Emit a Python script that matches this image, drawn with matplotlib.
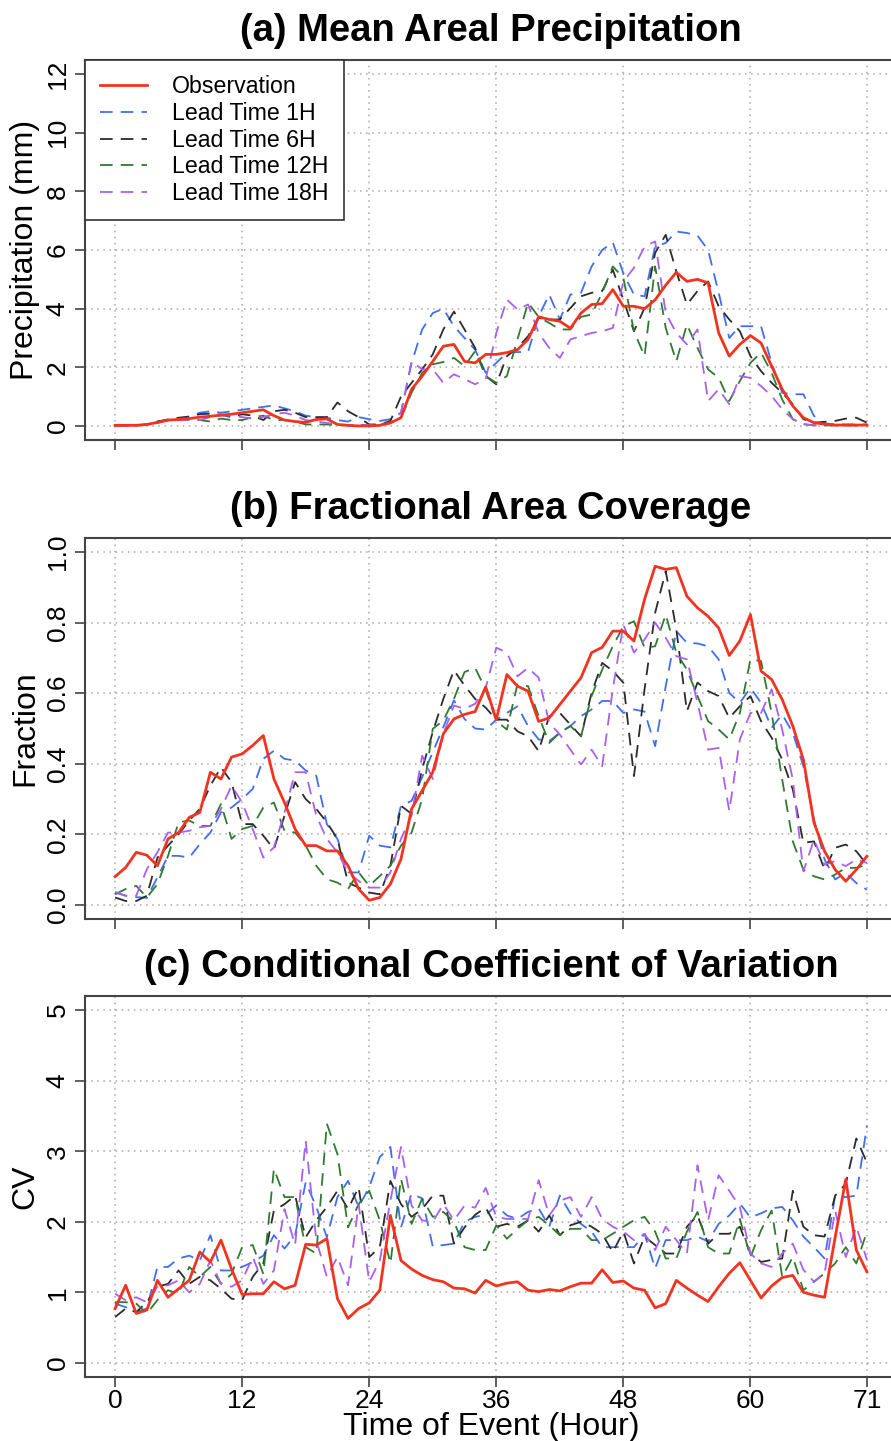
import matplotlib
matplotlib.use("Agg")
import matplotlib.pyplot as plt
import numpy as np

hours = np.arange(72)

# (a) mean areal precipitation (mm)
map_obs = [0.02, 0.02, 0.02, 0.05, 0.12, 0.20, 0.22, 0.25, 0.30, 0.33, 0.37, 0.40,
           0.45, 0.50, 0.55, 0.35, 0.20, 0.15, 0.12, 0.22, 0.24, 0.05, 0.02, 0.0,
           0.0, 0.02, 0.10, 0.28, 1.25, 1.70, 2.20, 2.72, 2.78, 2.20, 2.15, 2.44,
           2.44, 2.50, 2.60, 2.95, 3.72, 3.63, 3.57, 3.33, 3.85, 4.14, 4.17, 4.65,
           4.08, 4.08, 4.00, 4.30, 4.80, 5.24, 4.93, 5.00, 4.88, 3.17, 2.38, 2.78,
           3.08, 2.83, 2.04, 1.25, 0.68, 0.28, 0.11, 0.06, 0.03, 0.03, 0.03, 0.03]
map_1h = [0.02, 0.02, 0.02, 0.05, 0.15, 0.20, 0.25, 0.30, 0.45, 0.50, 0.45, 0.50,
          0.55, 0.60, 0.65, 0.70, 0.60, 0.50, 0.35, 0.30, 0.28, 0.20, 0.15, 0.30,
          0.23, 0.17, 0.23, 0.45, 2.15, 3.29, 3.85, 4.00, 3.40, 3.00, 2.60, 1.81,
          2.15, 2.50, 2.52, 2.52, 3.74, 4.48, 3.63, 4.48, 4.54, 5.44, 6.00, 6.26,
          5.20, 4.48, 4.42, 6.12, 6.24, 6.63, 6.58, 6.49, 6.00, 4.54, 3.00, 3.40,
          3.40, 3.40, 2.15, 1.13, 1.08, 1.08, 0.34, 0.09, 0.05, 0.05, 0.05, 0.05]
map_6h = [0.02, 0.02, 0.02, 0.05, 0.15, 0.22, 0.28, 0.32, 0.40, 0.42, 0.38, 0.30,
          0.40, 0.35, 0.20, 0.50, 0.55, 0.45, 0.30, 0.30, 0.30, 0.80, 0.50, 0.30,
          0.05, 0.05, 0.17, 1.00, 1.47, 1.93, 2.44, 3.29, 3.90, 3.29, 2.66, 1.70,
          1.42, 2.38, 2.66, 3.06, 3.68, 3.63, 3.63, 4.02, 4.42, 4.54, 4.60, 5.33,
          4.31, 3.23, 4.02, 5.90, 6.52, 5.27, 4.14, 4.60, 4.93, 4.08, 3.63, 3.23,
          2.38, 1.87, 1.47, 1.13, 0.74, 0.23, 0.11, 0.14, 0.17, 0.25, 0.28, 0.11]
map_12h = [0.02, 0.02, 0.02, 0.04, 0.10, 0.20, 0.25, 0.25, 0.20, 0.15, 0.25, 0.20,
           0.20, 0.30, 0.35, 0.20, 0.20, 0.15, 0.05, 0.05, 0.05, 0.03, 0.02, 0.0,
           0.02, 0.05, 0.11, 0.28, 1.13, 1.81, 2.10, 2.18, 2.32, 2.04, 2.55, 1.70,
           1.47, 1.70, 2.95, 4.20, 3.72, 3.51, 3.29, 3.29, 3.72, 3.80, 4.54, 5.44,
           5.05, 3.23, 2.38, 5.44, 3.34, 2.20, 3.46, 2.66, 1.93, 1.64, 0.85, 1.53,
           2.15, 2.50, 1.81, 0.90, 0.23, 0.06, 0.02, 0.02, 0.02, 0.02, 0.02, 0.02]
map_18h = [0.02, 0.02, 0.02, 0.04, 0.12, 0.18, 0.20, 0.20, 0.20, 0.30, 0.35, 0.35,
           0.30, 0.25, 0.30, 0.40, 0.45, 0.35, 0.20, 0.15, 0.10, 0.05, 0.02, 0.05,
           0.02, 0.02, 0.10, 0.45, 2.20, 1.93, 1.93, 1.47, 1.76, 1.60, 1.42, 1.60,
           3.17, 4.31, 3.97, 4.14, 3.17, 2.66, 2.32, 2.95, 3.06, 3.17, 3.23, 3.34,
           4.93, 5.39, 6.12, 6.29, 3.85, 3.17, 2.78, 3.29, 0.85, 1.25, 0.74, 1.70,
           1.64, 1.36, 1.02, 0.57, 0.23, 0.06, 0.02, 0.02, 0.02, 0.02, 0.02, 0.02]

# (b) fractional area coverage
fac_obs = [0.080, 0.106, 0.149, 0.141, 0.111, 0.187, 0.205, 0.248, 0.262, 0.376, 0.357, 0.419,
           0.428, 0.452, 0.480, 0.357, 0.290, 0.215, 0.168, 0.168, 0.153, 0.153, 0.111, 0.045,
           0.013, 0.021, 0.059, 0.130, 0.272, 0.324, 0.376, 0.485, 0.527, 0.540, 0.548, 0.618,
           0.525, 0.653, 0.620, 0.606, 0.520, 0.530, 0.568, 0.606, 0.644, 0.715, 0.730, 0.776,
           0.776, 0.748, 0.866, 0.960, 0.951, 0.956, 0.875, 0.842, 0.818, 0.785, 0.707, 0.748,
           0.823, 0.663, 0.639, 0.582, 0.507, 0.412, 0.233, 0.152, 0.100, 0.067, 0.100, 0.138]
fac_1h = [0.035, 0.026, 0.022, 0.020, 0.078, 0.139, 0.139, 0.134, 0.172, 0.205, 0.262, 0.276,
          0.300, 0.329, 0.414, 0.437, 0.414, 0.409, 0.381, 0.366, 0.229, 0.187, 0.092, 0.092,
          0.196, 0.168, 0.163, 0.281, 0.295, 0.362, 0.433, 0.504, 0.580, 0.527, 0.500, 0.497,
          0.525, 0.544, 0.563, 0.507, 0.469, 0.464, 0.488, 0.507, 0.535, 0.554, 0.578, 0.578,
          0.544, 0.554, 0.548, 0.450, 0.620, 0.776, 0.743, 0.741, 0.733, 0.696, 0.601, 0.573,
          0.615, 0.573, 0.502, 0.540, 0.488, 0.393, 0.242, 0.129, 0.072, 0.091, 0.062, 0.043]
fac_6h = [0.021, 0.011, 0.011, 0.026, 0.134, 0.168, 0.200, 0.239, 0.272, 0.338, 0.390, 0.348,
          0.229, 0.229, 0.196, 0.158, 0.253, 0.348, 0.300, 0.272, 0.234, 0.187, 0.063, 0.049,
          0.035, 0.030, 0.111, 0.281, 0.258, 0.385, 0.490, 0.584, 0.665, 0.622, 0.584, 0.559,
          0.525, 0.525, 0.492, 0.478, 0.436, 0.535, 0.544, 0.511, 0.478, 0.601, 0.686, 0.663,
          0.630, 0.365, 0.611, 0.828, 0.946, 0.781, 0.549, 0.630, 0.606, 0.592, 0.530, 0.563,
          0.592, 0.521, 0.474, 0.412, 0.327, 0.176, 0.180, 0.100, 0.162, 0.171, 0.152, 0.114]
fac_12h = [0.030, 0.045, 0.054, 0.021, 0.059, 0.139, 0.234, 0.239, 0.224, 0.224, 0.286, 0.187,
           0.215, 0.224, 0.276, 0.290, 0.210, 0.205, 0.168, 0.111, 0.073, 0.063, 0.045, 0.092,
           0.054, 0.082, 0.111, 0.168, 0.205, 0.300, 0.499, 0.523, 0.584, 0.660, 0.672, 0.610,
           0.521, 0.497, 0.625, 0.620, 0.535, 0.459, 0.488, 0.507, 0.478, 0.592, 0.667, 0.733,
           0.790, 0.804, 0.729, 0.733, 0.823, 0.715, 0.667, 0.592, 0.521, 0.497, 0.469, 0.544,
           0.696, 0.691, 0.544, 0.355, 0.180, 0.100, 0.081, 0.072, 0.086, 0.105, 0.105, 0.114]
fac_18h = [0.037, 0.026, 0.026, 0.101, 0.149, 0.205, 0.205, 0.210, 0.220, 0.224, 0.272, 0.338,
           0.290, 0.215, 0.134, 0.163, 0.262, 0.376, 0.376, 0.253, 0.187, 0.149, 0.092, 0.068,
           0.049, 0.049, 0.092, 0.187, 0.253, 0.423, 0.357, 0.485, 0.565, 0.556, 0.570, 0.615,
           0.729, 0.715, 0.648, 0.672, 0.644, 0.516, 0.483, 0.440, 0.398, 0.440, 0.393, 0.611,
           0.795, 0.715, 0.752, 0.800, 0.757, 0.705, 0.696, 0.573, 0.440, 0.445, 0.266, 0.469,
           0.544, 0.544, 0.611, 0.497, 0.355, 0.095, 0.185, 0.114, 0.124, 0.110, 0.129, 0.119]

# (c) conditional coefficient of variation
cv_obs = [0.77, 1.10, 0.70, 0.75, 1.17, 0.93, 1.05, 1.17, 1.57, 1.43, 1.74, 1.33,
          0.97, 0.98, 0.98, 1.15, 1.05, 1.10, 1.68, 1.67, 1.76, 0.91, 0.63, 0.77,
          0.85, 1.03, 2.09, 1.45, 1.33, 1.24, 1.18, 1.15, 1.06, 1.05, 0.99, 1.17,
          1.09, 1.13, 1.15, 1.03, 1.01, 1.04, 1.02, 1.08, 1.13, 1.13, 1.32, 1.14,
          1.16, 1.06, 1.03, 0.78, 0.84, 1.17, 1.06, 0.96, 0.87, 1.08, 1.27, 1.42,
          1.17, 0.92, 1.09, 1.21, 1.24, 1.00, 0.96, 0.93, 1.78, 2.60, 1.60, 1.29]
cv_1h = [0.84, 0.79, 0.72, 0.77, 1.36, 1.36, 1.48, 1.52, 1.45, 1.81, 1.31, 1.31,
         1.36, 1.43, 1.52, 1.81, 1.62, 1.81, 2.56, 2.21, 1.78, 2.35, 2.58, 2.21,
         2.49, 2.92, 3.06, 1.92, 2.40, 2.33, 1.65, 1.67, 1.69, 2.00, 2.07, 2.10,
         2.23, 2.09, 2.04, 2.14, 2.19, 1.93, 2.37, 2.12, 1.97, 1.86, 1.64, 1.64,
         1.64, 1.64, 1.83, 1.34, 1.74, 1.74, 1.74, 1.79, 1.72, 1.97, 2.09, 2.26,
         2.06, 2.12, 2.19, 2.21, 2.02, 1.79, 1.64, 1.48, 2.37, 2.35, 2.37, 3.36]
cv_6h = [0.65, 0.77, 0.72, 0.86, 1.08, 1.12, 1.31, 1.12, 1.22, 1.17, 1.05, 0.91,
         0.89, 1.22, 1.41, 2.16, 2.25, 2.37, 1.78, 2.02, 2.21, 2.44, 2.18, 2.49,
         1.50, 1.64, 2.58, 2.25, 2.07, 2.18, 2.37, 2.37, 1.69, 1.92, 2.10, 2.20,
         1.93, 1.97, 1.93, 2.02, 1.86, 2.09, 1.81, 1.95, 2.00, 1.93, 1.83, 1.57,
         1.86, 1.41, 1.79, 1.67, 1.55, 1.55, 1.93, 2.09, 1.69, 1.83, 1.83, 1.93,
         1.55, 1.43, 1.46, 1.48, 2.44, 1.93, 1.81, 1.79, 2.37, 2.54, 3.18, 2.84]
cv_12h = [0.86, 0.86, 0.84, 0.70, 0.89, 1.03, 0.98, 1.36, 1.22, 1.36, 1.12, 1.26,
          1.64, 1.67, 1.26, 2.75, 2.35, 2.35, 1.64, 1.55, 3.39, 2.96, 1.92, 2.25,
          2.44, 2.02, 1.41, 2.61, 1.97, 2.33, 2.07, 2.14, 2.00, 1.64, 1.60, 1.60,
          1.95, 1.76, 1.90, 2.02, 2.07, 1.95, 1.81, 1.90, 1.90, 1.74, 1.74, 1.83,
          1.93, 2.02, 2.07, 1.86, 1.48, 1.48, 1.86, 2.14, 1.64, 1.55, 1.55, 2.04,
          1.50, 1.88, 2.16, 1.22, 1.50, 1.03, 1.15, 1.27, 1.41, 1.64, 1.41, 1.86]
cv_18h = [0.98, 0.89, 0.93, 0.86, 1.08, 1.10, 1.17, 1.00, 1.12, 1.45, 1.12, 1.08,
          1.17, 1.50, 1.12, 1.31, 2.18, 1.67, 3.15, 1.74, 1.22, 1.50, 1.10, 2.25,
          1.15, 1.45, 2.30, 3.06, 2.23, 2.02, 2.00, 2.25, 2.02, 2.23, 2.20, 2.48,
          2.07, 2.04, 2.04, 2.04, 2.59, 2.09, 2.30, 2.35, 2.07, 2.35, 2.04, 1.93,
          1.86, 1.74, 1.83, 1.60, 1.93, 1.74, 1.55, 2.80, 2.02, 2.66, 2.44, 2.21,
          1.55, 1.41, 1.36, 1.55, 1.69, 1.32, 1.15, 1.27, 2.16, 1.50, 1.93, 1.46]

labels = ["Observation", "Lead Time 1H", "Lead Time 6H", "Lead Time 12H", "Lead Time 18H"]
colors = ["#f2331f", "#3f6ff0", "#2b2b2b", "#2f7a2f", "#a95ff0"]
x_ticks = [0, 12, 24, 36, 48, 60, 71]

panels = [
    ("(a) Mean Areal Precipitation", "Precipitation (mm)",
     [map_obs, map_1h, map_6h, map_12h, map_18h], np.arange(0, 13, 2), 12, "%d"),
    ("(b) Fractional Area Coverage", "Fraction",
     [fac_obs, fac_1h, fac_6h, fac_12h, fac_18h], np.arange(0, 1.01, 0.2), 1.0, "%.1f"),
    ("(c) Conditional Coefficient of Variation", "CV",
     [cv_obs, cv_1h, cv_6h, cv_12h, cv_18h], np.arange(0, 6, 1), 5, "%d"),
]

plt.rcParams['font.family'] = ['Liberation Sans', 'DejaVu Sans']

W, H = 891, 1441
fig = plt.figure(figsize=(W / 100, H / 100), dpi=100)

# panel boxes in pixels: (top, bottom)
boxes = [(60, 440), (538, 919), (996, 1377)]
left_px, right_px = 85, 897

for i, (title, ylabel, series, yticks, ymax, fmt) in enumerate(panels):
    top, bot = boxes[i]
    ax = fig.add_axes([left_px / W, 1 - bot / H, (right_px - left_px) / W, (bot - top) / H])

    for j, (vals, lab, col) in enumerate(zip(series, labels, colors)):
        if j == 0:
            ax.plot(hours, vals, color=col, lw=2.0, label=lab, zorder=5)
        else:
            ax.plot(hours, vals, color=col, lw=1.3, ls=(0, (7, 4.5)), label=lab, zorder=4)

    pad_x = 0.04 * 71
    ax.set_xlim(-pad_x, 71 + pad_x)
    ax.set_ylim(-0.04 * ymax, ymax * 1.04)
    ax.set_xticks(x_ticks)
    ax.set_yticks(yticks)
    ax.set_yticklabels([fmt % v for v in yticks], rotation=90, va='center')
    ax.grid(True, ls=(0, (1, 3)), color='#a8a8a8', lw=1.1)
    ax.tick_params(axis='both', direction='out', length=7, width=1.2,
                   labelsize=19, color='#444444')
    ax.tick_params(axis='y', pad=4)
    ax.tick_params(axis='x', pad=2)
    for sp in ax.spines.values():
        sp.set_color('#444444')
        sp.set_linewidth(1.5)

    ax.set_title(title, fontsize=27.5, fontweight='bold', pad=14)
    ax.set_ylabel(ylabel, fontsize=23, labelpad=4)

    if i < 2:
        ax.set_xticklabels([])
    else:
        ax.set_xticklabels([str(t) for t in x_ticks])
        ax.set_xlabel("Time of Event (Hour)", fontsize=23, labelpad=-1)

    if i == 0:
        leg = ax.legend(loc='upper left', bbox_to_anchor=(0, 1), borderaxespad=0,
                        fontsize=16.7, fancybox=False, framealpha=1, edgecolor='#333333',
                        handlelength=2.0, handletextpad=1.1, labelspacing=0.16,
                        borderpad=0.66)
        leg.get_frame().set_linewidth(1.2)

fig.savefig("out.png", dpi=100)
